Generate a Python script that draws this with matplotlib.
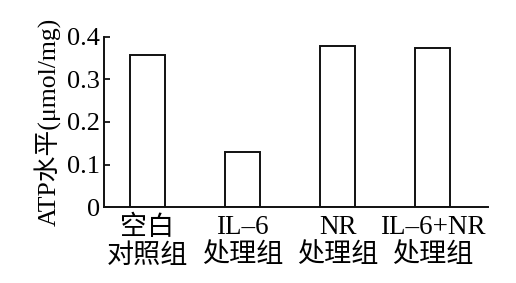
import numpy as np
import matplotlib.pyplot as plt

plt.rcParams['font.family'] = ['Liberation Serif', 'Noto Sans CJK SC']

# Data
groups = ['空白\n对照组', 'IL–6\n处理组', 'NR\n处理组', 'IL–6+NR\n处理组']
atp = [0.358, 0.129, 0.379, 0.374]
yticks = [0, 0.1, 0.2, 0.3, 0.4]
ytick_labels = ['0', '0.1', '0.2', '0.3', '0.4']

fig = plt.figure(figsize=(5.16, 2.83), dpi=100)
ax = fig.add_axes([104/516, 1 - 207/283, (488-104)/516, (207-37)/283])

x = np.arange(len(groups))
ax.bar(x, atp, width=0.37, facecolor='white', edgecolor='#111111', linewidth=1.4)

ax.set_xlim(-0.458, 3.58)
ax.set_ylim(0, 0.4)
ax.set_yticks(yticks)
ax.set_yticklabels(ytick_labels, fontsize=19)
ax.set_xticks(x)
ax.set_xticklabels(groups, fontsize=19.5, linespacing=1.15)
ax.tick_params(axis='y', direction='in', length=4, width=1.2, pad=3)
ax.tick_params(axis='x', length=0, pad=6)

for s in ['top', 'right']:
    ax.spines[s].set_visible(False)
for s in ['left', 'bottom']:
    ax.spines[s].set_linewidth(1.4)
    ax.spines[s].set_color('#111111')

ax.set_ylabel('ATP水平(μmol/mg)', fontsize=18.5, labelpad=4)

fig.savefig('out.png', dpi=100)
